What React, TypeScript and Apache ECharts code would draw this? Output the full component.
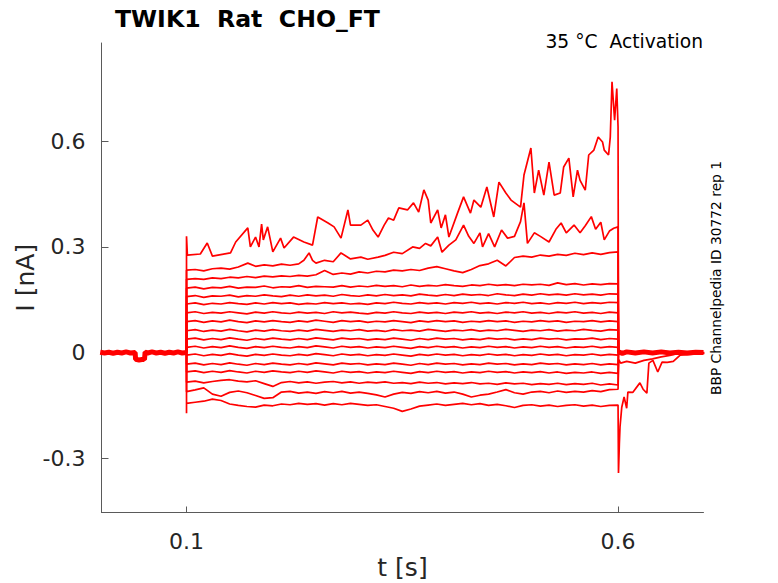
import { useEffect, useRef } from 'react';
import * as echarts from 'echarts';

// time grid of the voltage step (s)
const stepT = [
  0.10, 0.11, 0.12, 0.13, 0.14, 0.15, 0.16, 0.17, 0.18, 0.19,
  0.20, 0.21, 0.22, 0.23, 0.24, 0.25, 0.26, 0.27, 0.28, 0.29,
  0.30, 0.31, 0.32, 0.33, 0.34, 0.35, 0.36, 0.37, 0.38, 0.39,
  0.40, 0.41, 0.42, 0.43, 0.44, 0.45, 0.46, 0.47, 0.48, 0.49,
  0.50, 0.51, 0.52, 0.53, 0.54, 0.55, 0.56, 0.57, 0.58, 0.59,
  0.60,
];

// largest depolarising sweep, [t, I]
const trace1 = [
  [0.1, 0.33], [0.101, 0.277], [0.116, 0.28], [0.124, 0.311], [0.13, 0.274], [0.151, 0.283],
  [0.157, 0.314], [0.171, 0.354], [0.174, 0.3], [0.18, 0.328], [0.184, 0.3], [0.187, 0.365],
  [0.189, 0.32], [0.194, 0.357], [0.2, 0.286], [0.209, 0.325], [0.213, 0.297], [0.224, 0.328],
  [0.236, 0.314], [0.246, 0.305], [0.252, 0.385], [0.264, 0.368], [0.271, 0.357], [0.279, 0.325],
  [0.287, 0.405], [0.29, 0.362], [0.302, 0.362], [0.31, 0.376], [0.316, 0.348], [0.322, 0.328],
  [0.329, 0.362], [0.334, 0.382], [0.34, 0.376], [0.346, 0.411], [0.356, 0.405], [0.363, 0.425],
  [0.369, 0.399], [0.375, 0.462], [0.38, 0.433], [0.383, 0.368], [0.391, 0.405], [0.395, 0.354],
  [0.4, 0.391], [0.404, 0.328], [0.414, 0.396], [0.421, 0.442], [0.429, 0.396], [0.433, 0.433],
  [0.441, 0.413], [0.448, 0.47], [0.456, 0.385], [0.462, 0.484], [0.47, 0.453], [0.476, 0.433],
  [0.487, 0.413], [0.491, 0.504], [0.499, 0.581], [0.503, 0.453], [0.508, 0.518], [0.514, 0.447],
  [0.52, 0.541], [0.526, 0.447], [0.533, 0.453], [0.537, 0.527], [0.543, 0.552], [0.548, 0.442],
  [0.553, 0.518], [0.556, 0.489], [0.562, 0.461], [0.566, 0.561], [0.572, 0.575], [0.577, 0.612],
  [0.582, 0.598], [0.584, 0.575], [0.589, 0.561], [0.591, 0.612], [0.593, 0.769], [0.596, 0.66],
  [0.5985, 0.75], [0.6, 0.641], [0.6005, 0.0],
];

const trace2 = [
  [0.1, 0.234], [0.11, 0.236], [0.12, 0.232], [0.13, 0.238], [0.14, 0.24], [0.15, 0.237],
  [0.16, 0.243], [0.171, 0.254], [0.18, 0.245], [0.19, 0.249], [0.2, 0.246], [0.21, 0.251],
  [0.22, 0.248], [0.23, 0.252], [0.236, 0.262], [0.242, 0.283], [0.246, 0.262], [0.25, 0.254],
  [0.26, 0.262], [0.27, 0.258], [0.279, 0.283], [0.29, 0.266], [0.302, 0.271], [0.31, 0.265],
  [0.322, 0.271], [0.33, 0.276], [0.34, 0.285], [0.35, 0.281], [0.362, 0.3], [0.37, 0.296],
  [0.377, 0.31], [0.383, 0.303], [0.391, 0.328], [0.396, 0.285], [0.404, 0.305], [0.412, 0.32],
  [0.421, 0.362], [0.427, 0.33], [0.433, 0.31], [0.44, 0.34], [0.443, 0.3], [0.45, 0.338],
  [0.457, 0.3], [0.465, 0.348], [0.472, 0.325], [0.48, 0.33], [0.487, 0.372], [0.491, 0.425],
  [0.495, 0.31], [0.503, 0.34], [0.51, 0.33], [0.52, 0.314], [0.528, 0.35], [0.534, 0.368],
  [0.54, 0.34], [0.549, 0.362], [0.556, 0.34], [0.562, 0.36], [0.569, 0.386], [0.574, 0.35],
  [0.58, 0.37], [0.584, 0.32], [0.59, 0.345], [0.595, 0.353], [0.6, 0.357], [0.6005, 0.0],
];

const trace3 = [
  0.208, 0.21, 0.208, 0.212, 0.21, 0.214, 0.212, 0.216, 0.213, 0.217,
  0.215, 0.218, 0.216, 0.219, 0.217, 0.221, 0.233, 0.222, 0.226, 0.223,
  0.229, 0.226, 0.231, 0.229, 0.234, 0.232, 0.236, 0.233, 0.24, 0.244,
  0.238, 0.232, 0.227, 0.236, 0.247, 0.252, 0.262, 0.246, 0.27, 0.274,
  0.271, 0.277, 0.274, 0.279, 0.276, 0.282, 0.278, 0.283, 0.279, 0.284,
  0.286,
];
const trace4 = [
  0.183, 0.186, 0.181, 0.185, 0.184, 0.188, 0.183, 0.186, 0.185, 0.189,
  0.184, 0.187, 0.186, 0.19, 0.185, 0.188, 0.187, 0.186, 0.19, 0.186,
  0.189, 0.187, 0.191, 0.188, 0.19, 0.187, 0.192, 0.188, 0.191, 0.189,
  0.193, 0.19, 0.188, 0.192, 0.19, 0.194, 0.191, 0.193, 0.19, 0.194,
  0.192, 0.194, 0.191, 0.198, 0.193, 0.196, 0.192, 0.195, 0.193, 0.196,
  0.195,
];
const trace5 = [
  0.159, 0.162, 0.157, 0.161, 0.16, 0.163, 0.158, 0.162, 0.16, 0.164,
  0.161, 0.159, 0.163, 0.16, 0.164, 0.161, 0.163, 0.16, 0.165, 0.162,
  0.16, 0.164, 0.161, 0.165, 0.162, 0.164, 0.161, 0.166, 0.163, 0.161,
  0.165, 0.162, 0.166, 0.163, 0.165, 0.162, 0.167, 0.164, 0.162, 0.166,
  0.163, 0.167, 0.164, 0.166, 0.163, 0.167, 0.164, 0.166, 0.163, 0.167,
  0.166,
];
const trace6 = [
  0.138, 0.141, 0.136, 0.14, 0.138, 0.142, 0.139, 0.137, 0.141, 0.138,
  0.142, 0.139, 0.141, 0.137, 0.14, 0.138, 0.142, 0.139, 0.141, 0.138,
  0.14, 0.137, 0.141, 0.139, 0.143, 0.14, 0.138, 0.142, 0.139, 0.141,
  0.138, 0.142, 0.14, 0.143, 0.139, 0.141, 0.138, 0.142, 0.14, 0.143,
  0.139, 0.141, 0.138, 0.142, 0.14, 0.143, 0.139, 0.142, 0.14, 0.143,
  0.142,
];
const trace7 = [
  0.113, 0.116, 0.111, 0.114, 0.112, 0.116, 0.113, 0.11, 0.115, 0.112,
  0.116, 0.113, 0.111, 0.115, 0.112, 0.114, 0.111, 0.116, 0.113, 0.115,
  0.112, 0.11, 0.114, 0.112, 0.116, 0.113, 0.111, 0.115, 0.112, 0.114,
  0.111, 0.115, 0.113, 0.116, 0.112, 0.114, 0.111, 0.115, 0.113, 0.116,
  0.112, 0.114, 0.111, 0.115, 0.113, 0.116, 0.112, 0.114, 0.111, 0.115,
  0.113,
];
const trace8 = [
  0.088, 0.091, 0.086, 0.09, 0.087, 0.092, 0.088, 0.085, 0.09, 0.087,
  0.091, 0.088, 0.086, 0.09, 0.087, 0.092, 0.089, 0.086, 0.091, 0.088,
  0.09, 0.086, 0.089, 0.087, 0.091, 0.088, 0.085, 0.09, 0.087, 0.091,
  0.088, 0.09, 0.086, 0.089, 0.087, 0.091, 0.088, 0.09, 0.086, 0.089,
  0.087, 0.091, 0.088, 0.09, 0.086, 0.089, 0.088, 0.091, 0.087, 0.09,
  0.088,
];
const trace9 = [
  0.062, 0.065, 0.06, 0.064, 0.061, 0.066, 0.062, 0.059, 0.064, 0.061,
  0.065, 0.062, 0.06, 0.064, 0.061, 0.066, 0.063, 0.06, 0.064, 0.062,
  0.065, 0.061, 0.063, 0.06, 0.065, 0.062, 0.064, 0.061, 0.066, 0.063,
  0.06, 0.064, 0.062, 0.065, 0.061, 0.064, 0.062, 0.066, 0.063, 0.06,
  0.064, 0.062, 0.065, 0.061, 0.064, 0.062, 0.066, 0.063, 0.061, 0.065,
  0.064,
];
const trace10 = [
  0.038, 0.041, 0.036, 0.04, 0.037, 0.042, 0.038, 0.035, 0.04, 0.037,
  0.041, 0.038, 0.036, 0.04, 0.037, 0.042, 0.039, 0.036, 0.041, 0.038,
  0.04, 0.036, 0.039, 0.037, 0.041, 0.038, 0.035, 0.04, 0.037, 0.041,
  0.038, 0.04, 0.036, 0.039, 0.037, 0.041, 0.038, 0.04, 0.036, 0.039,
  0.037, 0.041, 0.038, 0.04, 0.036, 0.039, 0.038, 0.041, 0.037, 0.04,
  0.038,
];
const trace11 = [
  0.015, 0.018, 0.013, 0.017, 0.014, 0.019, 0.015, 0.012, 0.017, 0.014,
  0.018, 0.015, 0.013, 0.017, 0.014, 0.019, 0.016, 0.013, 0.018, 0.015,
  0.017, 0.013, 0.016, 0.014, 0.018, 0.015, 0.012, 0.017, 0.014, 0.018,
  0.015, 0.017, 0.013, 0.016, 0.014, 0.018, 0.015, 0.017, 0.013, 0.016,
  0.014, 0.018, 0.015, 0.017, 0.013, 0.016, 0.015, 0.018, 0.014, 0.017,
  0.015,
];
const trace12 = [
  -0.007, -0.004, -0.009, -0.005, -0.008, -0.003, -0.007, -0.01, -0.005, -0.008,
  -0.004, -0.007, -0.009, -0.005, -0.008, -0.003, -0.006, -0.009, -0.004, -0.007,
  -0.005, -0.009, -0.006, -0.008, -0.004, -0.007, -0.01, -0.005, -0.008, -0.004,
  -0.007, -0.005, -0.009, -0.006, -0.008, -0.004, -0.007, -0.005, -0.009, -0.006,
  -0.008, -0.004, -0.007, -0.005, -0.009, -0.006, -0.007, -0.004, -0.008, -0.005,
  -0.007,
];
const trace13 = [
  -0.033, -0.03, -0.035, -0.031, -0.034, -0.029, -0.033, -0.036, -0.031, -0.034,
  -0.03, -0.033, -0.035, -0.031, -0.034, -0.029, -0.032, -0.035, -0.03, -0.033,
  -0.031, -0.035, -0.032, -0.034, -0.03, -0.033, -0.036, -0.031, -0.034, -0.03,
  -0.033, -0.031, -0.035, -0.032, -0.034, -0.03, -0.033, -0.031, -0.035, -0.032,
  -0.034, -0.03, -0.033, -0.031, -0.035, -0.032, -0.034, -0.031, -0.035, -0.032,
  -0.034,
];
const trace14 = [
  -0.055, -0.052, -0.057, -0.053, -0.056, -0.051, -0.055, -0.058, -0.053, -0.056,
  -0.052, -0.055, -0.057, -0.053, -0.056, -0.052, -0.055, -0.058, -0.053, -0.056,
  -0.054, -0.058, -0.055, -0.057, -0.053, -0.056, -0.059, -0.054, -0.057, -0.053,
  -0.056, -0.054, -0.058, -0.055, -0.057, -0.053, -0.056, -0.054, -0.058, -0.055,
  -0.057, -0.054, -0.058, -0.055, -0.059, -0.056, -0.058, -0.055, -0.059, -0.056,
  -0.059,
];
const trace15 = [
  -0.084, -0.081, -0.086, -0.082, -0.079, -0.077, -0.081, -0.083, -0.08, -0.088,
  -0.096, -0.085, -0.082, -0.086, -0.083, -0.087, -0.084, -0.082, -0.086, -0.083,
  -0.087, -0.084, -0.086, -0.083, -0.087, -0.085, -0.088, -0.084, -0.087, -0.085,
  -0.089, -0.086, -0.088, -0.085, -0.089, -0.087, -0.09, -0.086, -0.089, -0.087,
  -0.091, -0.088, -0.09, -0.087, -0.091, -0.088, -0.09, -0.087, -0.092, -0.089,
  -0.092,
];
const trace16 = [
  -0.111, -0.106, -0.1, -0.118, -0.124, -0.113, -0.109, -0.114, -0.122, -0.13,
  -0.128, -0.112, -0.11, -0.115, -0.112, -0.116, -0.111, -0.114, -0.11, -0.115,
  -0.112, -0.116, -0.12, -0.126, -0.118, -0.113, -0.116, -0.111, -0.114, -0.11,
  -0.115, -0.112, -0.118, -0.126, -0.121, -0.118, -0.112, -0.105, -0.114, -0.118,
  -0.112, -0.11, -0.114, -0.109, -0.113, -0.11, -0.112, -0.108, -0.111, -0.105,
  -0.104,
];
const trace17 = [
  -0.144, -0.141, -0.138, -0.132, -0.136, -0.146, -0.15, -0.153, -0.155, -0.149,
  -0.151, -0.146, -0.148, -0.144, -0.147, -0.145, -0.149, -0.145, -0.148, -0.144,
  -0.147, -0.15, -0.148, -0.153, -0.158, -0.167, -0.16, -0.152, -0.149, -0.146,
  -0.15, -0.147, -0.144, -0.148, -0.145, -0.15, -0.147, -0.151, -0.156, -0.15,
  -0.148, -0.152, -0.149, -0.153, -0.15, -0.148, -0.152, -0.149, -0.153, -0.15,
  -0.149,
];
const onset17 = -0.172;

// tail currents after the step, [t, I]
const tail16 = [
  [0.6008, -0.02], [0.603, -0.03], [0.61, -0.025], [0.62, -0.03], [0.63, -0.022],
  [0.64, -0.018], [0.65, -0.012], [0.66, -0.008], [0.668, -0.003], [0.7, 0.0],
];
const tail17 = [
  [0.6005, -0.342], [0.6015, -0.26], [0.6023, -0.21], [0.6043, -0.155], [0.607, -0.126],
  [0.61, -0.158], [0.6114, -0.112], [0.617, -0.113], [0.6253, -0.086], [0.629, -0.104],
  [0.6334, -0.115], [0.6357, -0.03], [0.6404, -0.022], [0.646, -0.055], [0.651, -0.027],
  [0.657, -0.028], [0.664, -0.025], [0.672, -0.007], [0.7, -0.002],
];

// holding current shared by all sweeps, [t, I]
const holdPre = [
  [0.0, 0.001], [0.005, -0.001], [0.01, 0.001], [0.015, -0.002], [0.02, 0.001], [0.025, -0.001],
  [0.03, 0.002], [0.035, -0.001], [0.0405, 0.0], [0.041, -0.019], [0.045, -0.021], [0.05, -0.019],
  [0.0513, -0.02], [0.052, 0.001], [0.055, -0.001], [0.06, 0.002], [0.065, -0.001], [0.07, 0.001],
  [0.075, -0.002], [0.08, 0.001], [0.085, -0.001], [0.09, 0.002], [0.095, -0.001], [0.1, 0.0],
];
const holdPost = [
  [0.6005, 0.002], [0.605, -0.002], [0.61, 0.002], [0.62, -0.001], [0.63, 0.002], [0.64, -0.001],
  [0.65, 0.002], [0.66, -0.001], [0.67, 0.001], [0.68, -0.001], [0.69, 0.001], [0.699, 0.0],
];

const xTicks = [0.1, 0.6];
const yTicks = [-0.3, 0, 0.3, 0.6];

const RED = '#ff0000';
const FONT = 'DejaVu Sans';
const INK = '#262626';
const AXIS = '#5a5a5a';

export default function App() {
  const chartRef = useRef<HTMLDivElement>(null);

  useEffect(() => {
    if (!chartRef.current) return;
    const chart = echarts.init(chartRef.current, null, { renderer: 'svg' });

    const gridTraces = [
      trace3, trace4, trace5, trace6, trace7, trace8, trace9, trace10,
      trace11, trace12, trace13, trace14, trace15, trace16, trace17,
    ];

    const line = (data: number[][], width = 1.7) => ({
      type: 'line',
      data,
      showSymbol: false,
      silent: true,
      lineStyle: { color: RED, width },
    });

    const series: any[] = [line(holdPre, 5), line(holdPost, 5)];
    series.push(line([[0.1, 0], ...trace1]));
    series.push(line([[0.1, 0], ...trace2]));
    gridTraces.forEach((vals) => {
      const data: number[][] = [[0.1, 0]];
      if (vals === trace17) data.push([0.1, onset17]);
      stepT.forEach((t, k) => data.push([t, vals[k]]));
      if (vals === trace16) data.push(...tail16);
      else if (vals === trace17) data.push(...tail17);
      else data.push([0.6005, 0]);
      series.push(line(data));
    });

    chart.setOption({
      animation: false,
      grid: {
        left: 101.5,
        right: 74.5,
        top: 43,
        bottom: 70.5,
        containLabel: false,
        outerBoundsMode: 'none',
      },
      xAxis: {
        type: 'value',
        min: 0.0015,
        max: 0.699,
        name: 't [s]',
        nameLocation: 'middle',
        nameGap: 42,
        nameMoveOverlap: false,
        nameTextStyle: { fontFamily: FONT, fontSize: 25, color: INK },
        axisLine: { show: true, onZero: false, lineStyle: { color: AXIS, width: 1 } },
        axisTick: { show: true, inside: true, length: 6, customValues: xTicks, lineStyle: { color: AXIS } },
        axisLabel: { customValues: xTicks, fontFamily: FONT, fontSize: 22, color: INK, margin: 18 },
        splitLine: { show: false },
      },
      yAxis: {
        type: 'value',
        min: -0.454,
        max: 0.879,
        name: 'I [nA]',
        nameLocation: 'middle',
        nameGap: 64,
        nameMoveOverlap: false,
        nameTextStyle: { fontFamily: FONT, fontSize: 25, color: INK },
        axisLine: { show: true, onZero: false, lineStyle: { color: AXIS, width: 1 } },
        axisTick: { show: true, inside: true, length: 7, customValues: yTicks, lineStyle: { color: AXIS } },
        axisLabel: { customValues: yTicks, fontFamily: FONT, fontSize: 22, color: INK, margin: 16 },
        splitLine: { show: false },
      },
      graphic: [
        {
          type: 'text',
          x: 115,
          y: 19,
          style: {
            text: 'TWIK1  Rat  CHO_FT',
            fontFamily: FONT,
            fontWeight: 'bold',
            fontSize: 23.6,
            fill: '#000',
            align: 'left',
            verticalAlign: 'middle',
          },
        },
        {
          type: 'text',
          x: 703,
          y: 41,
          style: {
            text: '35 °C  Activation',
            fontFamily: FONT,
            fontSize: 18.7,
            fill: '#000',
            align: 'right',
            verticalAlign: 'middle',
          },
        },
        {
          type: 'text',
          x: 716,
          y: 278,
          rotation: Math.PI / 2,
          style: {
            text: 'BBP Channelpedia ID 30772 rep 1',
            fontFamily: FONT,
            fontSize: 13.8,
            fill: '#000',
            align: 'center',
            verticalAlign: 'middle',
          },
        },
      ],
      series,
    });

    return () => chart.dispose();
  }, []);

  return (
    <div
      ref={chartRef}
      style={{ position: 'fixed', left: 0, top: 0, width: 778, height: 583, background: '#fff' }}
    />
  );
}
